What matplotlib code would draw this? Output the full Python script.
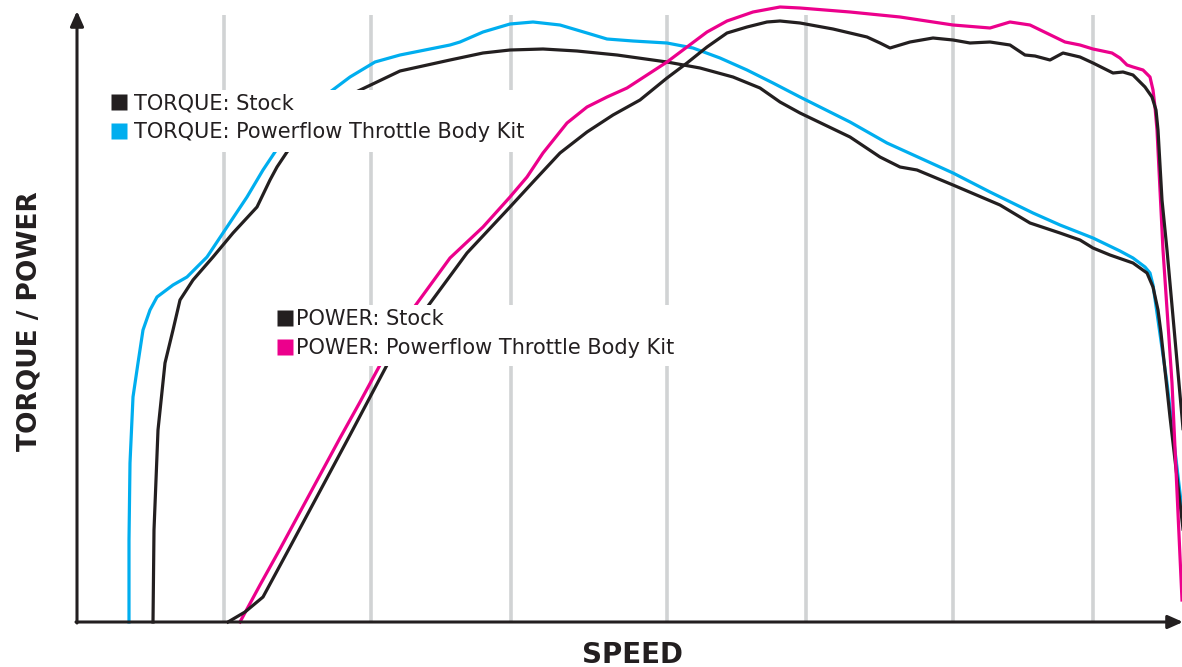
import matplotlib
matplotlib.use('Agg')
import matplotlib.pyplot as plt
from matplotlib.patches import Rectangle

# colours
BLACK = '#231f20'
BLUE = '#00aeef'
PINK = '#ec008c'
GRID = '#d1d3d4'

# speed positions of the light vertical guide lines
grid_speed = [147, 294, 434, 590, 729, 876, 1016]

# torque, stock
torque_stock_x = [76, 77, 81, 88, 96, 103, 116, 136, 156, 180, 193, 200, 210, 228, 253, 279, 323, 373, 406, 433,
                  466, 500, 540, 590, 623, 656, 683, 703, 723, 773, 803, 823, 840, 876, 923, 953, 983, 1003, 1016,
                  1033, 1056, 1070, 1076, 1081, 1084, 1093, 1103, 1113]
torque_stock_y = [0, 92, 192, 259, 292, 322, 342, 365, 389, 415, 442, 455, 470, 494, 517, 530, 551, 562, 569, 572,
                  573, 571, 567, 560, 554, 545, 534, 520, 509, 485, 465, 455, 452, 437, 417, 399, 389, 382, 374,
                  367, 359, 349, 335, 312, 289, 205, 119, 32]

# torque, powerflow throttle body kit
torque_kit_x = [52, 52, 53, 56, 61, 66, 73, 80, 96, 110, 130, 150, 170, 186, 198, 218, 236, 253, 273, 298, 323, 353,
                373, 383, 406, 433, 456, 483, 510, 530, 556, 590, 616, 643, 670, 696, 723, 773, 810, 843, 876, 913,
                956, 983, 1016, 1043, 1056, 1068, 1073, 1076, 1081, 1090, 1105, 1115]
torque_kit_y = [0, 82, 159, 225, 259, 292, 312, 325, 337, 345, 365, 395, 425, 452, 470, 500, 519, 530, 545, 560, 567,
                573, 577, 580, 590, 598, 600, 597, 589, 583, 581, 579, 574, 564, 552, 539, 525, 500, 479, 464, 449,
                430, 409, 397, 384, 371, 364, 355, 349, 337, 302, 239, 112, 22]

# power, stock
power_stock_x = [151, 168, 186, 213, 243, 273, 310, 351, 390, 433, 456, 483, 510, 536, 563, 590, 610, 630, 650, 670,
                 690, 703, 723, 756, 790, 803, 813, 823, 833, 856, 876, 893, 913, 933, 948, 958, 973, 986, 1003,
                 1016, 1036, 1046, 1056, 1068, 1075, 1079, 1081, 1085, 1090, 1105, 1113]
power_stock_y = [0, 10, 25, 75, 131, 187, 257, 316, 369, 415, 440, 469, 490, 507, 522, 544, 559, 575, 589, 595,
                 600, 601, 599, 593, 585, 579, 574, 577, 580, 584, 582, 579, 580, 577, 567, 566, 562, 569, 565,
                 559, 549, 550, 547, 535, 525, 512, 492, 422, 372, 205, 112]

# power, powerflow throttle body kit
power_kit_x = [163, 183, 203, 223, 243, 263, 283, 303, 320, 338, 373, 406, 433, 450, 466, 490, 510, 530, 550, 570,
               590, 610, 630, 650, 676, 703, 723, 773, 823, 876, 913, 933, 953, 988, 1003, 1016, 1035, 1043, 1050,
               1056, 1066, 1073, 1076, 1078, 1080, 1086, 1095, 1105]
power_kit_y = [0, 37, 73, 110, 147, 184, 220, 257, 287, 316, 364, 395, 425, 445, 469, 499, 515, 525, 534, 547,
               560, 575, 590, 601, 610, 615, 614, 610, 605, 597, 594, 600, 597, 580, 577, 573, 569, 564, 557,
               555, 552, 545, 532, 515, 492, 372, 239, 22]

torque_labels = ['TORQUE: Stock', 'TORQUE: Powerflow Throttle Body Kit']
power_labels = ['POWER: Stock', 'POWER: Powerflow Throttle Body Kit']

fig = plt.figure(figsize=(11.82, 6.67), dpi=100)
ax = fig.add_axes([77 / 1182, 45 / 667, 1105 / 1182, 609 / 667])
ax.set_xlim(0, 1105)
ax.set_ylim(0, 609)
ax.axis('off')

for gx in grid_speed:
    ax.plot([gx, gx], [0, 607], color=GRID, lw=2.6, zorder=1, solid_capstyle='butt')

lw = 2.3
ax.plot(torque_kit_x, torque_kit_y, color=BLUE, lw=lw, zorder=2, clip_on=False)
ax.plot(torque_stock_x, torque_stock_y, color=BLACK, lw=lw, zorder=2, clip_on=False)
ax.plot(power_kit_x, power_kit_y, color=PINK, lw=lw, zorder=2, clip_on=False)
ax.plot(power_stock_x, power_stock_y, color=BLACK, lw=lw, zorder=2, clip_on=False)

# axes with arrow heads
ax.annotate('', xy=(1106, 0), xytext=(-1, 0), annotation_clip=False,
            arrowprops=dict(arrowstyle='-|>,head_length=0.9,head_width=0.4', color=BLACK, lw=2.2,
                            shrinkA=0, shrinkB=0), zorder=5)
ax.annotate('', xy=(0, 611), xytext=(0, -1), annotation_clip=False,
            arrowprops=dict(arrowstyle='-|>,head_length=0.9,head_width=0.4', color=BLACK, lw=2.2,
                            shrinkA=0, shrinkB=0), zorder=5)

# legend blocks: white backing hides lines behind the text
ax.add_patch(Rectangle((28, 470), 435, 62, facecolor='white', edgecolor='none', zorder=3))
ax.add_patch(Rectangle((193, 256), 425, 61, facecolor='white', edgecolor='none', zorder=3))

for i, (lab, col) in enumerate(zip(torque_labels, [BLACK, BLUE])):
    y = 513 - 29 * i
    ax.plot(41.5, y + 7.5, marker='s', ms=11, color=col, mec='none', zorder=4)
    ax.text(57, y, lab, fontsize=15, color=BLACK, va='baseline', ha='left', zorder=4)

for i, (lab, col) in enumerate(zip(power_labels, [BLACK, PINK])):
    y = 297 - 29 * i
    ax.plot(207.5, y + 7.5, marker='s', ms=11, color=col, mec='none', zorder=4)
    ax.text(219, y, lab, fontsize=15, color=BLACK, va='baseline', ha='left', zorder=4)

fig.text(30 / 1182, 1 - 321 / 667, 'TORQUE / POWER', rotation=90, fontsize=19, fontweight='bold',
         color=BLACK, ha='center', va='center')
fig.text(632 / 1182, 1 - 655 / 667, 'SPEED', fontsize=20, fontweight='bold', color=BLACK,
         ha='center', va='center')

fig.savefig('out.png', dpi=100, facecolor='white')
